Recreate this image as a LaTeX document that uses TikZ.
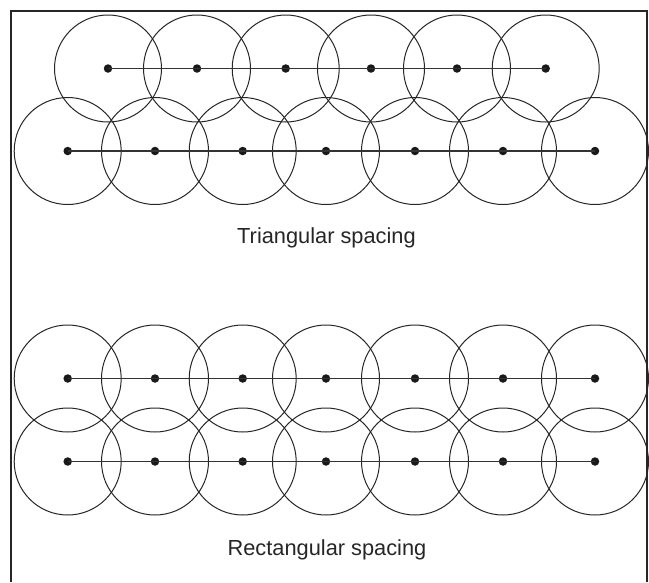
\documentclass[tikz,border=0pt]{standalone}
\usepackage{fontspec}
\setmainfont{Liberation Sans}
\usetikzlibrary{positioning}

\begin{document}
\begin{tikzpicture}[x=1pt,y=-1pt,
    dot/.style={circle,fill=black!90,inner sep=0pt,minimum size=8.5pt},
    reach/.style={draw=black!85,line width=1pt},
    axis/.style={draw=black!80,line width=1.3pt}]
\useasboundingbox (0,0) rectangle (649,582);
\draw[line width=2.4pt,black!85] (11,582) -- (11,11) -- (647,11) -- (647,582);

% triangular spacing
\foreach \x [count=\i] in {108,197,285.7,371,457,545.7}
    \node[dot] (tt\i) at (\x,68.5) {};
\foreach \x [count=\i] in {67.7,155,242.7,326,415,503,595}
    \node[dot] (tb\i) at (\x,151) {};
\foreach \i in {1,...,6}
    \draw[reach] (tt\i.center) circle (53.5);
\foreach \i in {1,...,7}
    \draw[reach] (tb\i.center) circle (53.5);
\draw[axis] (tt1.center) -- (tt6.center);
\draw[axis] (tb1.center) -- (tb7.center);
\node[font=\fontsize{21.8}{24}\selectfont,text=black!85] (tri) at (326.5,238) {Triangular spacing};

% rectangular spacing
\foreach \x [count=\i] in {67.7,155,242.7,326,415,503,595}{
    \node[dot] (ra\i) at (\x,378.5) {};
    \node[dot] (rb\i) at (\x,461.5) {};
}
\foreach \i in {1,...,7}{
    \draw[reach] (ra\i.center) circle (53.5);
    \draw[reach] (rb\i.center) circle (53.5);
}
\draw[axis] (ra1.center) -- (ra7.center);
\draw[axis] (rb1.center) -- (rb7.center);
\node[font=\fontsize{21.8}{24}\selectfont,text=black!85] (rect) at (327,550) {Rectangular spacing};
\end{tikzpicture}
\end{document}
